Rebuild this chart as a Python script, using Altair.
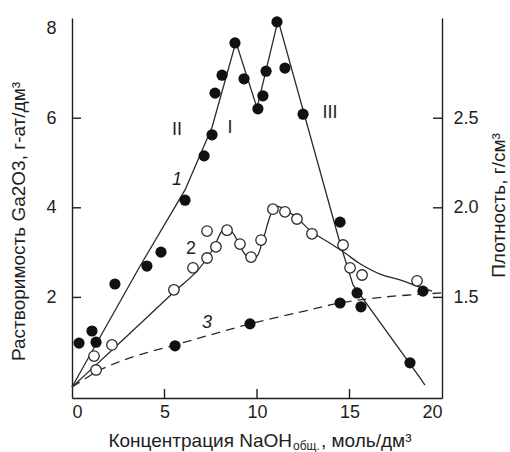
import altair as alt
import pandas as pd

FONT = "Liberation Sans"
INK = "#1e1e1e"
TICK = INK

# ---- axis values ----
x_ticks = [0, 5, 10, 15, 20]
y_ticks = [2, 4, 6, 8]
x_inner_ticks = [5, 10, 15]
y_inner_ticks = [2, 4, 6]
dens_ticks = [1.5, 2.0, 2.5]

# ---- curve 1: solubility, filled points ----
s1_x = [0.38, 1.08, 1.30, 2.32, 4.05, 4.81, 6.11, 7.14, 7.57, 7.73, 8.11, 8.81,
        9.30, 10.05, 10.32, 10.49, 11.08, 11.51, 12.49, 14.49, 15.41, 15.62, 18.27]
s1_y = [0.98, 1.25, 1.00, 2.30, 2.70, 3.01, 4.17, 5.16, 5.63, 6.56, 6.96, 7.68,
        6.88, 6.21, 6.50, 7.05, 8.15, 7.12, 6.09, 3.68, 2.10, 1.79, 0.54]
c1_x = [0.0, 3.68, 6.11, 7.57, 8.86, 10.0, 11.14, 14.49, 15.19, 18.70, 19.08]
c1_y = [0.0, 2.70, 4.40, 5.80, 7.70, 6.23, 8.19, 3.21, 2.28, 0.27, 0.04]

# ---- curve 2: open points ----
s2_x = [1.30, 1.19, 2.16, 5.51, 6.54, 7.30, 7.78, 7.30, 8.38, 9.08, 9.68, 10.22,
        10.86, 11.51, 12.16, 12.97, 14.65, 15.03, 15.68, 18.65]
s2_y = [0.38, 0.69, 0.94, 2.17, 2.66, 2.88, 3.13, 3.48, 3.50, 3.19, 2.90, 3.28,
        3.97, 3.91, 3.75, 3.42, 3.17, 2.66, 2.50, 2.37]
c2_x = [0.0, 2.05, 5.51, 6.81, 7.62, 8.22, 8.65, 9.19, 9.62, 10.0, 10.32, 10.97,
        11.35, 12.16, 12.97, 13.95, 14.76, 15.57, 16.65, 17.73, 18.81, 19.46]
c2_y = [0.0, 0.78, 2.12, 2.61, 3.08, 3.53, 3.46, 3.06, 2.86, 2.92, 3.28, 4.02,
        4.00, 3.77, 3.46, 3.21, 2.99, 2.75, 2.52, 2.39, 2.23, 2.14]

# ---- curve 3: density (dashed), filled points ----
s3_x = [5.57, 9.62, 14.49, 18.97]
s3_y = [0.92, 1.41, 1.875, 2.14]
c3_x = [0.0, 0.70, 1.51, 3.14, 5.57, 7.46, 9.62, 12.32, 14.49, 16.92, 20.0]
c3_y = [0.0, 0.18, 0.38, 0.65, 0.94, 1.16, 1.41, 1.67, 1.875, 2.01, 2.10]

# ---- annotations ----
lab_text = ["1", "3", "2", "II", "I", "III"]
lab_x = [5.68, 7.30, 6.43, 5.68, 8.54, 13.95]
lab_y = [4.62, 1.43, 3.08, 5.74, 5.78, 6.12]
lab_italic = [True, True, False, False, False, False]

# ---- x-axis title pieces ----
xt_main = ["Концентрация NaOH"]
xt_sub = ["общ."]
xt_tail = [", моль/дм³"]

Y_DOM = [-0.2455, 8.237]
D_DOM = [1 + Y_DOM[0] / 4, 1 + Y_DOM[1] / 4]
X_DOM = [0, 20]
W, H = 370, 380
TICK_LEN = 9

xs = alt.Scale(domain=X_DOM, nice=False, zero=False)
ys = alt.Scale(domain=Y_DOM, nice=False, zero=False)
ds = alt.Scale(domain=D_DOM, nice=False, zero=False)

x_axis = alt.Axis(values=x_ticks, ticks=False, labelFontSize=18, labelPadding=5,
                  title=None, grid=False, labelFont=FONT, labelColor=INK,
                  domain=True, domainColor=INK, domainWidth=1.4)
y_axis = alt.Axis(values=y_ticks, ticks=False, labelFontSize=18, labelPadding=16,
                  grid=False, labelFont=FONT, labelColor=INK,
                  title="Растворимость Ga2O3, г-ат/дм³", titleFontSize=19,
                  titleFont=FONT, titleFontWeight="normal", titleColor=INK,
                  titleAngle=270, titleAlign="center", titleBaseline="middle",
                  titleX=-54, titleY=203)


def X(field="x"):
    return alt.X(f"{field}:Q", scale=xs, axis=x_axis, title=None)


def Y(field="y"):
    return alt.Y(f"{field}:Q", scale=ys, axis=y_axis, title="Растворимость Ga2O3, г-ат/дм³")


def line_df(xv, yv):
    return pd.DataFrame({"x": xv, "y": yv, "i": list(range(len(xv)))})


line1 = alt.Chart(line_df(c1_x, c1_y)).mark_line(color="#2a2a2a", strokeWidth=1.3).encode(
    x=X(), y=Y(), order="i:Q")
line2 = alt.Chart(line_df(c2_x, c2_y)).mark_line(
    color="#2a2a2a", strokeWidth=1.3, interpolate="catmull-rom").encode(
    x=X(), y=Y(), order="i:Q")
line3 = alt.Chart(line_df(c3_x, c3_y)).mark_line(
    color="#2a2a2a", strokeWidth=1.3, strokeDash=[9, 6], interpolate="catmull-rom").encode(
    x=X(), y=Y(), order="i:Q")

pts1 = alt.Chart(pd.DataFrame({"x": s1_x, "y": s1_y})).mark_point(
    shape="circle", filled=True, size=125, color="#111111", opacity=1).encode(x=X(), y=Y())
pts3 = alt.Chart(pd.DataFrame({"x": s3_x, "y": s3_y})).mark_point(
    shape="circle", filled=True, size=125, color="#111111", opacity=1).encode(x=X(), y=Y())
pts2 = alt.Chart(pd.DataFrame({"x": s2_x, "y": s2_y})).mark_point(
    shape="circle", filled=True, size=110, color="white", stroke="#2a2a2a",
    strokeWidth=1.3, opacity=1).encode(x=X(), y=Y())

lab_df = pd.DataFrame({"t": lab_text, "x": lab_x, "y": lab_y, "it": lab_italic})
labs_it = alt.Chart(lab_df[lab_df["it"]]).mark_text(
    font=FONT, fontSize=18, fontStyle="italic", color=INK).encode(x=X(), y=Y(), text="t:N")
labs_n = alt.Chart(lab_df[~lab_df["it"]]).mark_text(
    font=FONT, fontSize=18, color=INK).encode(x=X(), y=Y(), text="t:N")

ytick_rules = alt.Chart(pd.DataFrame({"y": y_inner_ticks})).mark_rule(
    color=TICK, strokeWidth=1.4).encode(y=Y(), x=alt.value(0), x2=alt.value(TICK_LEN))

xt_df = pd.DataFrame({"x": x_inner_ticks})
xt_df["y0"] = Y_DOM[0]
xt_df["y1"] = Y_DOM[0] + TICK_LEN * (Y_DOM[1] - Y_DOM[0]) / H
xtick_rules = alt.Chart(xt_df).mark_rule(color=TICK, strokeWidth=1.4).encode(
    x=X(), y=Y("y0"), y2="y1:Q")

xt1 = alt.Chart(pd.DataFrame({"t": xt_main})).mark_text(
    font=FONT, fontSize=19, align="right", baseline="alphabetic", color=INK).encode(
    x=alt.value(220), y=alt.value(429), text="t:N")
xt2 = alt.Chart(pd.DataFrame({"t": xt_sub})).mark_text(
    font=FONT, fontSize=12, align="left", baseline="alphabetic", color=INK).encode(
    x=alt.value(221), y=alt.value(432), text="t:N")
xt3 = alt.Chart(pd.DataFrame({"t": xt_tail})).mark_text(
    font=FONT, fontSize=19, align="left", baseline="alphabetic", color=INK).encode(
    x=alt.value(249), y=alt.value(429), text="t:N")

left = alt.layer(line1, line2, line3, pts2, pts1, pts3, labs_it, labs_n,
                 ytick_rules, xtick_rules, xt1, xt2, xt3)

right_axis = alt.Axis(orient="right", values=dens_ticks, format=".1f", ticks=False,
                      labelFontSize=18, labelPadding=11, grid=False, labelFont=FONT,
                      labelColor=INK, title="Плотность, г/см³", titleFontSize=19,
                      titleFont=FONT, titleFontWeight="normal", titleColor=INK,
                      titleAngle=270, titleAlign="center", titleBaseline="middle",
                      titleX=56, titleY=187)
right = alt.Chart(pd.DataFrame({"d": dens_ticks})).mark_rule(
    color=TICK, strokeWidth=1.4).encode(
    y=alt.Y("d:Q", scale=ds, axis=right_axis), x=alt.value(W), x2=alt.value(W - TICK_LEN))

chart = alt.layer(left, right).resolve_scale(y="independent").properties(
    width=W, height=H,
    autosize=alt.AutoSizeParams(type="none"),
    padding={"left": 72, "top": 18, "right": 68, "bottom": 54},
    background="white",
).configure_view(stroke=None).configure_axis(
    domainColor=INK, domainWidth=1.4, labelFont=FONT, titleFont=FONT)

chart.save("out.html", embed_options={"renderer": "svg", "actions": False})
